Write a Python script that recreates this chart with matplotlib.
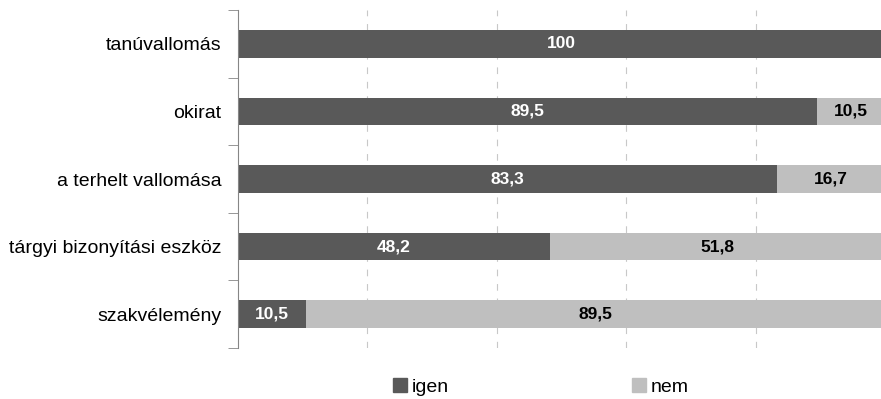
import numpy as np
import matplotlib
matplotlib.use('Agg')
import matplotlib.pyplot as plt
from matplotlib.patches import Patch

plt.rcParams['font.family'] = ['Liberation Sans', 'DejaVu Sans']

categories = ['tanúvallomás', 'okirat', 'a terhelt vallomása',
              'tárgyi bizonyítási eszköz', 'szakvélemény']
igen = [100, 89.5, 83.3, 48.2, 10.5]
nem = [0, 10.5, 16.7, 51.8, 89.5]

DARK = '#595959'
LIGHT = '#bfbfbf'

fig = plt.figure(figsize=(8.81, 3.99), dpi=100)
ax = fig.add_axes([238 / 881, 1 - 348 / 399, (885 - 238) / 881, 338 / 399])

ypos = np.arange(len(categories))
height = 0.41

ax.barh(ypos, igen, height, color=DARK, zorder=2)
ax.barh(ypos, nem, height, left=igen, color=LIGHT, zorder=2)

# value labels inside the bars
for y, a, b in zip(ypos, igen, nem):
    if a > 0:
        ax.text(a / 2, y, '{:g}'.format(a).replace('.', ','),
                ha='center', va='center', color='white',
                fontsize=12.5, fontweight='bold', zorder=3)
    if b > 0:
        ax.text(a + b / 2, y, '{:g}'.format(b).replace('.', ','),
                ha='center', va='center', color='black',
                fontsize=12.5, fontweight='bold', zorder=3)

ax.set_xlim(0, 100)
ax.set_ylim(len(categories) - 0.5, -0.5)

ax.set_xticks([20, 40, 60, 80])
ax.tick_params(axis='x', length=0, labelbottom=False)
ax.grid(axis='x', color='#c8c8c8', linestyle=(0, (6, 7)), linewidth=0.8,
        zorder=0)

ax.set_yticks(ypos)
ax.set_yticklabels(categories, fontsize=14)
ax.tick_params(axis='y', which='major', length=0, pad=12)
ax.set_yticks(np.arange(len(categories) + 1) - 0.5, minor=True)
ax.tick_params(axis='y', which='minor', length=7, color='#868686')

for side in ['top', 'right', 'bottom']:
    ax.spines[side].set_visible(False)
ax.spines['left'].set_color('#868686')

handles = [Patch(color=DARK, label='igen'), Patch(color=LIGHT, label='nem')]
fig.legend(handles=handles, loc='center', bbox_to_anchor=(541 / 881, 1 - 387 / 399),
           ncol=2, frameon=False, fontsize=14, handlelength=0.72,
           handleheight=0.72, handletextpad=0.25, columnspacing=9.4,
           borderpad=0, borderaxespad=0)

fig.savefig('out.png', dpi=100)
